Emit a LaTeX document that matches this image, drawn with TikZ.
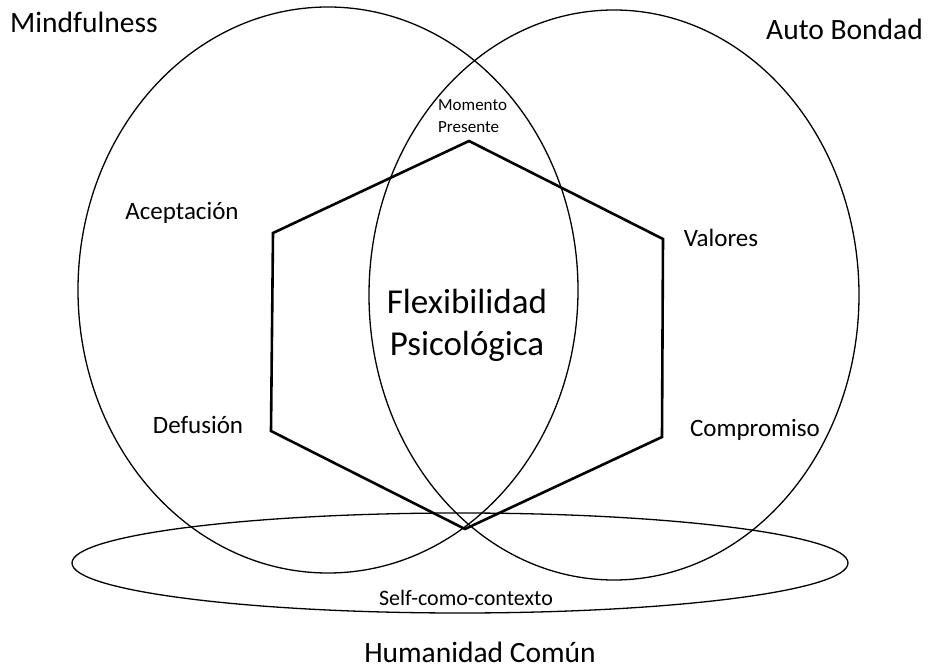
\documentclass[tikz,border=0pt]{standalone}
\usepackage{fontspec}
\setmainfont{Carlito}
\begin{document}
\begin{tikzpicture}[x=1pt,y=-1pt,
  ring/.style={draw=black, line width=1.3pt},
  hexline/.style={draw=black, line width=2.6pt, line join=miter},
  biglabel/.style={font=\fontsize{29.5}{34}\selectfont, inner sep=0pt},
  midlabel/.style={font=\fontsize{25}{29}\selectfont, inner sep=0pt},
  centrelabel/.style={font=\fontsize{35}{42}\selectfont, align=center, inner sep=0pt},
  smalllabel/.style={font=\fontsize{17}{22}\selectfont, align=left, inner sep=0pt},
  baselabel/.style={font=\fontsize{22}{26}\selectfont, inner sep=0pt}]
\useasboundingbox (0,0) rectangle (930,668);
\fill[white] (0,0) rectangle (930,668);

% the three circles of the model
\draw[ring] (328,290) ellipse [x radius=250, y radius=283];
\draw[ring] (614,295) ellipse [x radius=245, y radius=285];
\draw[ring] (460,563) ellipse [x radius=388, y radius=50];

% hexaflex
\coordinate (hTop) at (469,141);
\coordinate (hUR)  at (663,239);
\coordinate (hLR)  at (662,437);
\coordinate (hBot) at (465,529);
\coordinate (hLL)  at (271,431);
\coordinate (hUL)  at (273,233);
\draw[hexline] (hTop) -- (hUR) -- (hLR) -- (hBot) -- (hLL) -- (hUL) -- cycle;

% labels
\node[biglabel, anchor=west] (mind) at (10,22) {Mindfulness};
\node[biglabel, anchor=east] (auto) at (923,29) {Auto Bondad};
\node[biglabel] (human) at (480,652) {Humanidad Común};
\node[centrelabel] (flex) at (467,325) {Flexibilidad\\Psicológica};
\node[smalllabel, anchor=west] (momento) at (438,116) {Momento\\Presente};
\node[midlabel] (acept) at (182,213) {Aceptación};
\node[midlabel] (valores) at (721,238) {Valores};
\node[midlabel] (defus) at (198,425) {Defusión};
\node[midlabel] (compro) at (755,430) {Compromiso};
\node[baselabel] (self) at (466,598) {Self-como-contexto};
\end{tikzpicture}
\end{document}
